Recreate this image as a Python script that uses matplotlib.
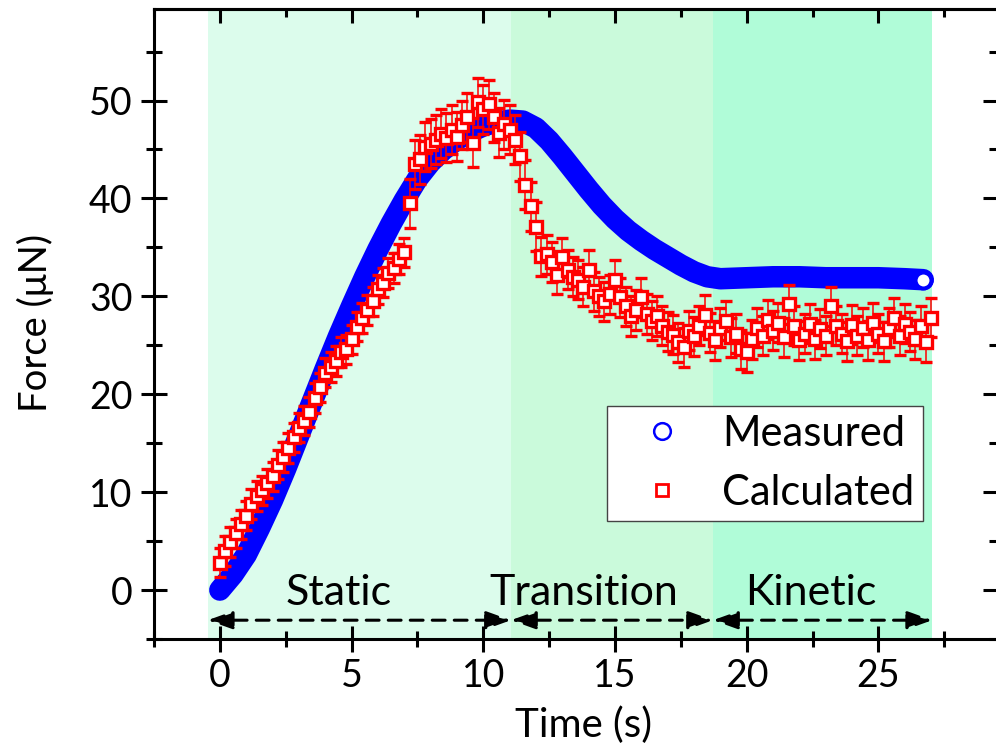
import matplotlib
matplotlib.use("Agg")
import matplotlib.pyplot as plt
from matplotlib.lines import Line2D
from matplotlib.ticker import MultipleLocator

plt.rcParams['font.family'] = ['Lato', 'DejaVu Sans']

# Measured force (blue band)
meas_t = [0, 0.5, 1.0, 1.5, 2.0, 2.5, 3.0, 3.5, 4.0, 4.5, 5.0, 5.5, 6.0, 6.5, 7.0,
          7.5, 8.0, 8.5, 9.0, 9.5, 10.0, 10.5, 11.0, 11.5, 12.0, 12.5, 13.0, 13.5,
          14.0, 14.5, 15.0, 15.5, 16.0, 16.5, 17.0, 17.5, 18.0, 18.5, 19.0, 20, 21,
          22, 23, 24, 25, 26, 26.7]
meas_f = [0, 1.6, 3.6, 6.3, 9.2, 12.4, 15.8, 19.2, 22.6, 25.9, 29.0, 32.0, 34.8,
          37.4, 39.8, 42.0, 43.7, 45.0, 46.0, 46.8, 47.4, 47.8, 48.0, 47.9, 47.2,
          45.9, 44.3, 42.6, 40.9, 39.3, 37.9, 36.7, 35.7, 34.8, 34.0, 33.2, 32.5,
          32.0, 31.8, 31.9, 32.0, 32.0, 31.9, 31.9, 31.9, 31.8, 31.7]

# Calculated force (red squares with error bars)
calc_t = [0.0, 0.2, 0.4, 0.6, 0.8, 1.0, 1.2, 1.4, 1.6, 1.8, 2.0, 2.2, 2.4, 2.6, 2.8,
          3.0, 3.2, 3.4, 3.6, 3.8, 4.0, 4.2, 4.4, 4.6, 4.8, 5.0, 5.2, 5.4, 5.6, 5.8,
          6.0, 6.2, 6.4, 6.6, 6.8, 7.0, 7.2, 7.4, 7.6, 7.8, 8.0, 8.2, 8.4, 8.6, 8.8,
          9.0, 9.2, 9.4, 9.6, 9.8, 10.0, 10.2, 10.4, 10.6, 10.8, 11.0, 11.2, 11.4,
          11.6, 11.8, 12.0, 12.2, 12.4, 12.6, 12.8, 13.0, 13.2, 13.4, 13.6, 13.8,
          14.0, 14.2, 14.4, 14.6, 14.8, 15.0, 15.2, 15.4, 15.6, 15.8, 16.0, 16.2,
          16.4, 16.6, 16.8, 17.0, 17.2, 17.4, 17.6, 17.8, 18.0, 18.2, 18.4, 18.6,
          18.8, 19.0, 19.2, 19.4, 19.6, 19.8, 20.0, 20.2, 20.4, 20.6, 20.8, 21.0,
          21.2, 21.4, 21.6, 21.8, 22.0, 22.2, 22.4, 22.6, 22.8, 23.0, 23.2, 23.4,
          23.6, 23.8, 24.0, 24.2, 24.4, 24.6, 24.8, 25.0, 25.2, 25.4, 25.6, 25.8,
          26.0, 26.2, 26.4, 26.6, 26.8, 27.0]
calc_f = [2.8, 4.0, 4.9, 5.8, 6.7, 7.6, 8.8, 9.6, 10.2, 10.9, 11.6, 12.8, 13.6, 14.5,
          15.6, 16.6, 17.3, 18.2, 19.6, 20.7, 22.2, 22.8, 23.4, 24.3, 24.6, 25.6,
          26.9, 27.8, 28.6, 29.5, 30.7, 31.4, 32.4, 32.9, 33.8, 34.5, 39.5, 43.5,
          44.0, 45.3, 45.6, 46.0, 46.6, 46.2, 47.0, 46.3, 47.5, 48.3, 45.7, 49.8,
          49.1, 49.6, 48.3, 46.7, 47.6, 47.0, 46.0, 44.3, 41.4, 39.2, 37.1, 34.1,
          34.3, 33.5, 32.2, 34.0, 32.7, 32.0, 31.7, 31.0, 32.7, 30.5, 30.0, 29.5,
          30.2, 31.7, 29.9, 29.0, 28.0, 28.6, 29.9, 28.2, 27.5, 28.0, 27.0, 26.4,
          26.1, 25.3, 24.8, 26.5, 25.9, 27.0, 28.1, 26.3, 25.5, 26.8, 27.5, 25.8,
          26.2, 24.6, 24.3, 25.6, 26.8, 26.0, 27.6, 26.5, 27.3, 25.8, 29.2, 27.0,
          25.5, 26.2, 27.2, 25.6, 26.7, 26.0, 29.0, 27.0, 26.2, 25.4, 27.1, 26.0,
          26.8, 25.5, 27.3, 26.2, 25.4, 26.8, 27.8, 26.0, 27.2, 26.4, 25.6, 27.0,
          25.3, 27.8]
calc_err = ([1.5] * 36 + [2.5] * 25 + [2.0] * 77)[:len(calc_t)]

# Regions
region_names = ['Static', 'Transition', 'Kinetic']
region_edges = [-0.46, 11.05, 18.72, 27.04]
region_colors = ['#dcfcec', '#cafadb', '#b0fcd8']
region_label_x = [4.5, 13.8, 22.45]

fig = plt.figure(figsize=(9.96, 7.54), dpi=100)
ax = fig.add_axes([154 / 996, 1 - 639 / 754, 843 / 996, 630 / 754])
ax.set_xlim(-2.5, 29.5)
ax.set_ylim(-5, 59.35)

for i in range(3):
    ax.axvspan(region_edges[i], region_edges[i + 1], color=region_colors[i], lw=0, zorder=0)

# Measured
ax.plot(meas_t, meas_f, color='#0000ff', lw=15.5, solid_capstyle='round',
        solid_joinstyle='round', zorder=2)
ax.plot(meas_t[-1], meas_f[-1], 'o', ms=11.5, mfc='white', mec='#0000ff', mew=2.9, zorder=3)

# Calculated
ax.errorbar(calc_t, calc_f, yerr=calc_err, fmt='s', ms=8.6, mfc='white', mec='#ff0000',
            mew=2.4, ecolor='#ff0000', elinewidth=1.1, capsize=4.5, capthick=1.1, zorder=4)

# Region arrows and labels
for i in range(3):
    ax.annotate('', xy=(region_edges[i + 1], -3.08), xytext=(region_edges[i], -3.08),
                arrowprops=dict(arrowstyle='<|-|>,head_length=0.75,head_width=0.27',
                                color='black', lw=2.2, linestyle=(0, (4.2, 3.0)),
                                shrinkA=0, shrinkB=0, mutation_scale=20),
                zorder=5)
    ax.text(region_label_x[i], -1.48, region_names[i], ha='center', va='baseline',
            fontsize=31, zorder=5)

# Spines & ticks
for s in ax.spines.values():
    s.set_linewidth(2.2)
ax.xaxis.set_major_locator(MultipleLocator(5))
ax.xaxis.set_minor_locator(MultipleLocator(2.5))
ax.yaxis.set_major_locator(MultipleLocator(10))
ax.yaxis.set_minor_locator(MultipleLocator(5))
ax.tick_params(which='major', direction='inout', length=19, width=2.2, labelsize=27, pad=4)
ax.tick_params(which='minor', direction='inout', length=11, width=2.2)
ax.tick_params(axis='y', which='major', pad=6)

secx = ax.secondary_xaxis('top')
secx.xaxis.set_major_locator(MultipleLocator(5))
secx.xaxis.set_minor_locator(MultipleLocator(2.5))
secx.tick_params(which='major', direction='in', length=10, width=2.2, labeltop=False)
secx.tick_params(which='minor', direction='in', length=6, width=2.2)
secx.spines['top'].set_linewidth(2.2)

secy = ax.secondary_yaxis('right')
secy.yaxis.set_major_locator(MultipleLocator(10))
secy.yaxis.set_minor_locator(MultipleLocator(5))
secy.tick_params(which='major', direction='in', length=10, width=2.2, labelright=False)
secy.tick_params(which='minor', direction='in', length=6, width=2.2)
secy.spines['right'].set_linewidth(2.2)

ax.set_xlabel('Time (s)', fontsize=29)
ax.set_ylabel('Force (\u03bcN)', fontsize=27.5)
ax.xaxis.label.set_va('center')
ax.yaxis.label.set_va('center')
ax.xaxis.set_label_coords(0.509, -0.137)
ax.yaxis.set_label_coords(-0.141, 0.5016)

handles = [Line2D([], [], ls='none', marker='o', ms=12, mfc='none', mec='#0000ff', mew=1.8),
           Line2D([], [], ls='none', marker='s', ms=8.5, mfc='none', mec='#ff0000', mew=2.0)]
leg = ax.legend(handles, ['Measured', 'Calculated'], loc='upper left',
                bbox_to_anchor=(0.537, 0.370), fontsize=30, frameon=True, fancybox=False,
                framealpha=1, edgecolor='#444444', borderpad=0.22, handletextpad=0.35,
                labelspacing=0.5, borderaxespad=0, handlelength=2.2)
leg.get_frame().set_linewidth(1.0)
leg.set_zorder(10)

fig.savefig('out.png', dpi=100)
